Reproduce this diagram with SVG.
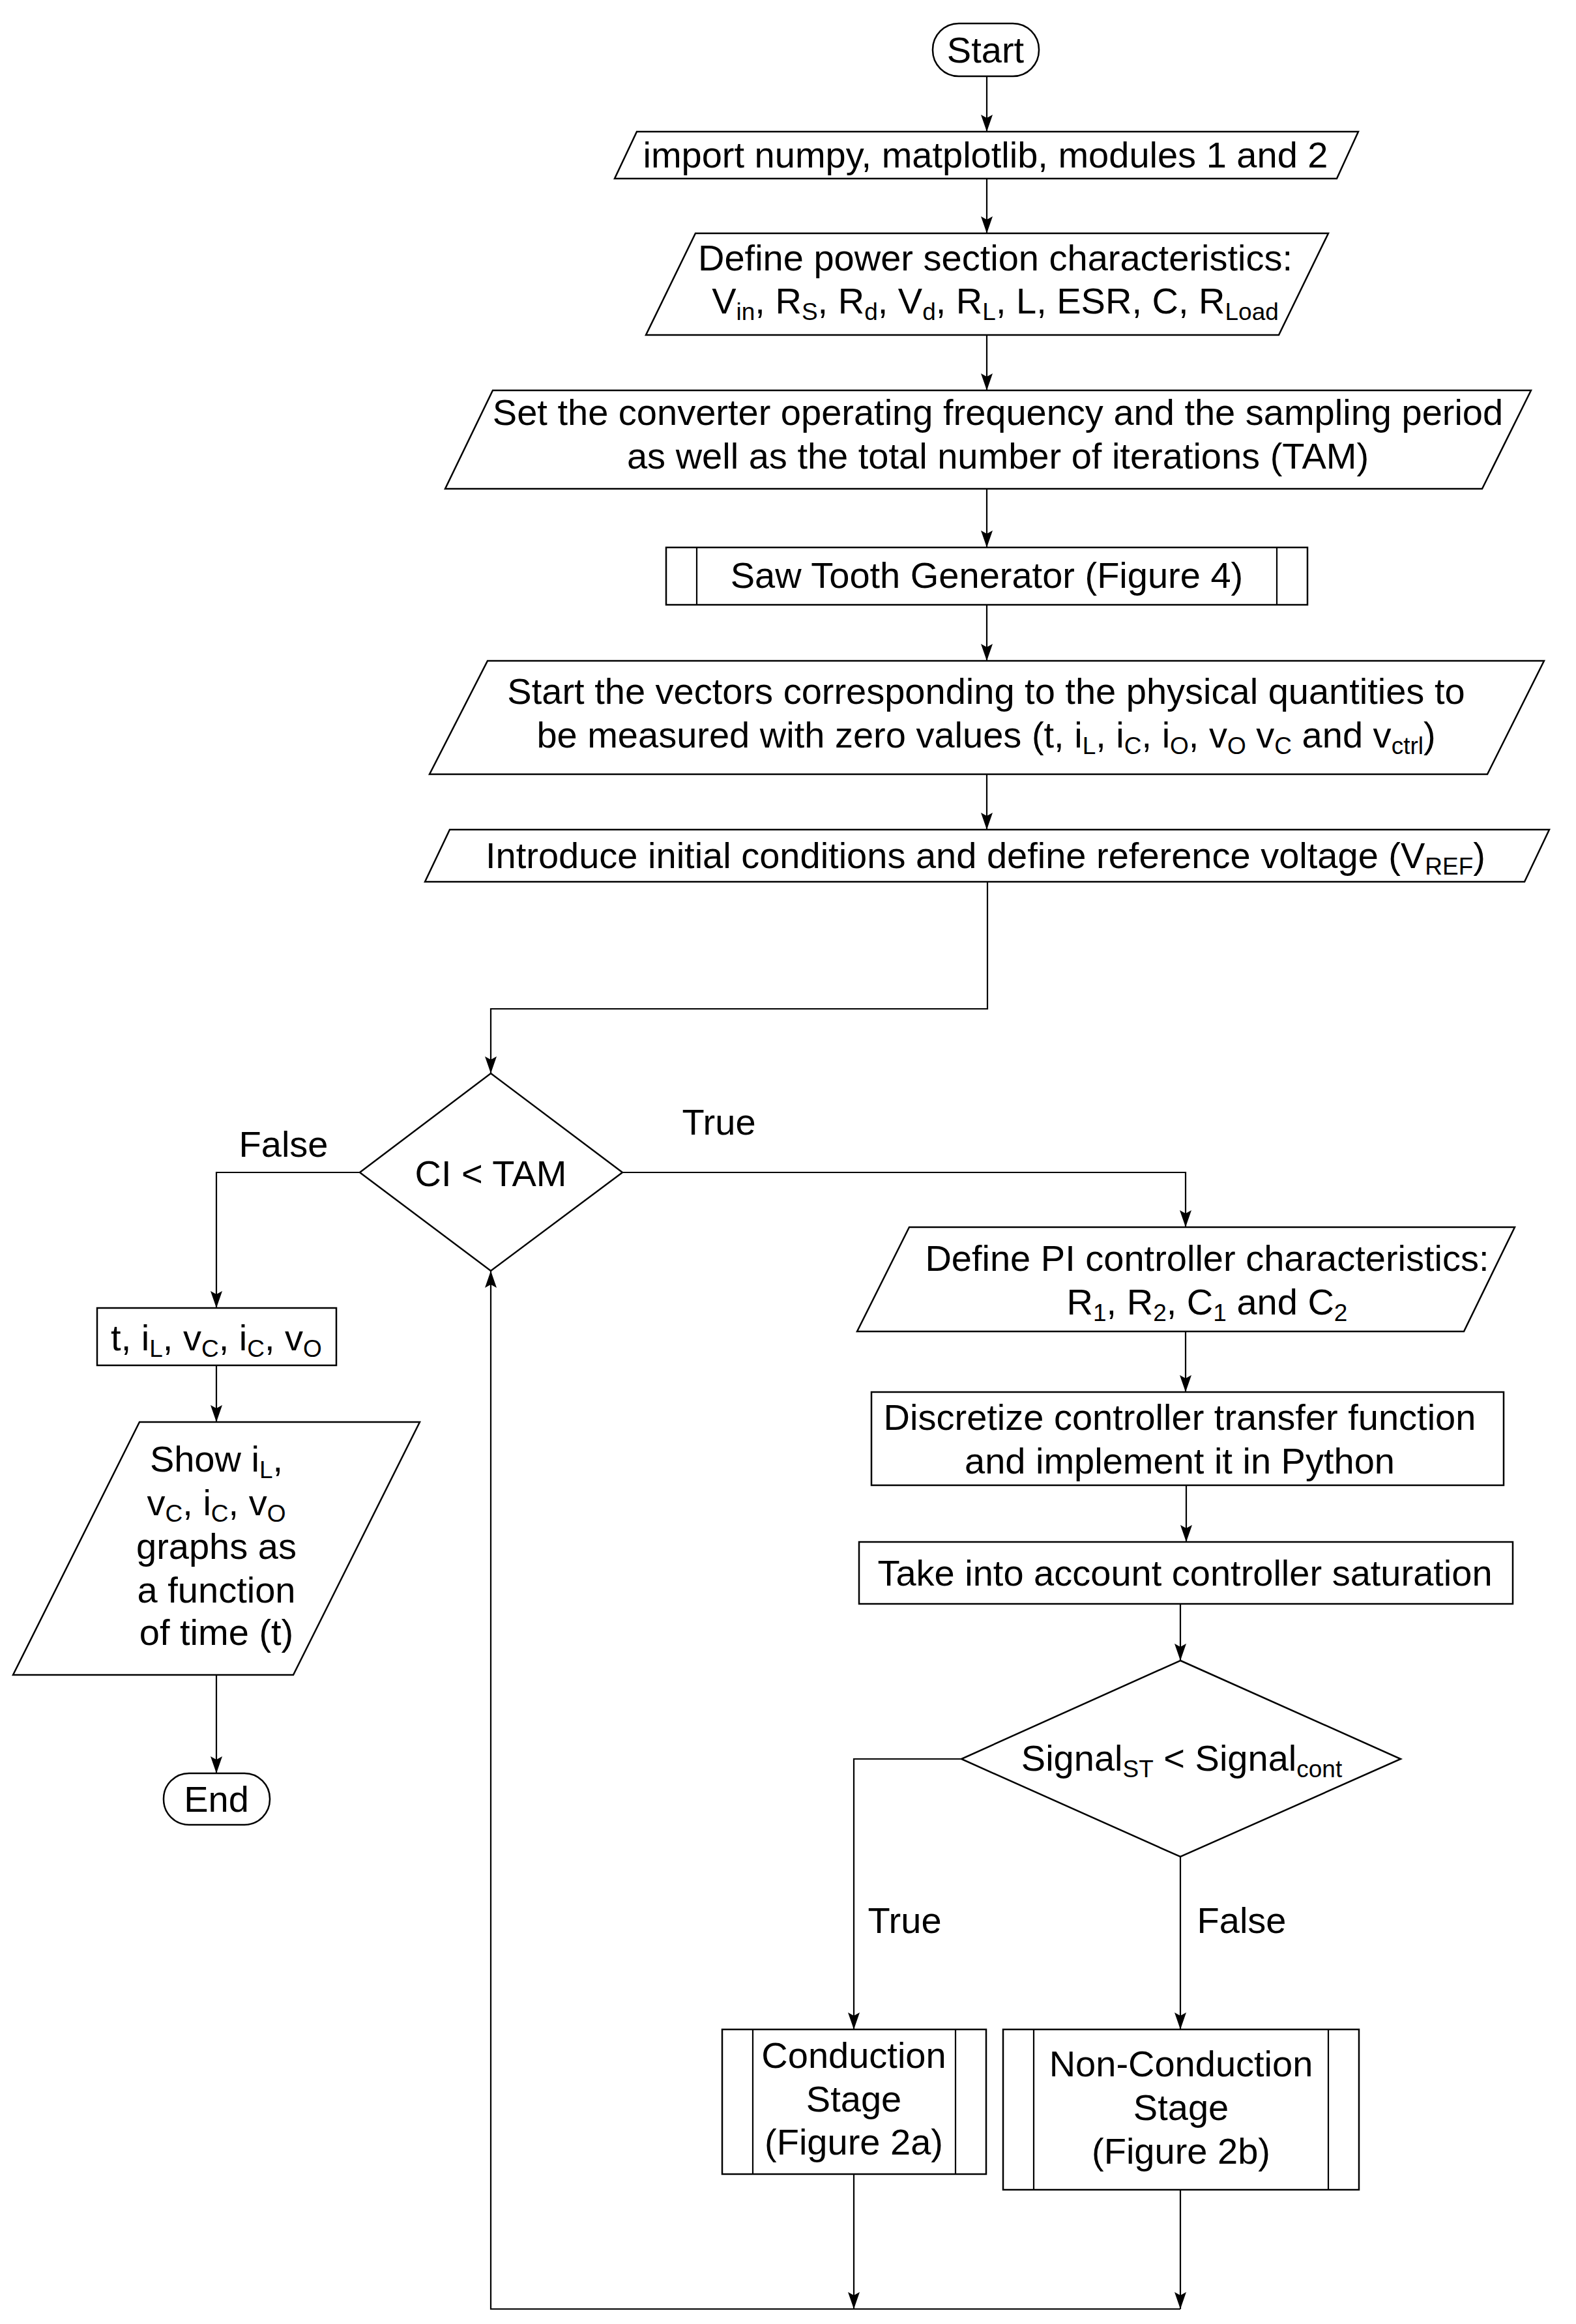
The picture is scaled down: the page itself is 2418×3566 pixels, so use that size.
<svg xmlns="http://www.w3.org/2000/svg" width="2418" height="3566" viewBox="0 0 2418 3566">
<style>
.s{fill:#fff;stroke:#000;stroke-width:2.5}
.ln{fill:none;stroke:#000;stroke-width:2.2}
text{font-family:"Liberation Sans",Arial,sans-serif;font-size:56px;fill:#000;text-anchor:middle}
.b{font-size:37px}
</style>
<defs>
<marker id="ah" viewBox="0 0 26 18" refX="26" refY="9" markerWidth="26" markerHeight="18" markerUnits="userSpaceOnUse" orient="auto"><path d="M0,0 L26,9 L0,18 L5,9 Z" fill="#000"/></marker>
</defs>
<rect width="2418" height="3566" fill="#fff"/>

<g id="connectors">
<path class="ln" d="M1514,117 V202" marker-end="url(#ah)"/>
<path class="ln" d="M1514,274 V358" marker-end="url(#ah)"/>
<path class="ln" d="M1514,514 V599" marker-end="url(#ah)"/>
<path class="ln" d="M1514,750 V840" marker-end="url(#ah)"/>
<path class="ln" d="M1514,928 V1014" marker-end="url(#ah)"/>
<path class="ln" d="M1514,1188 V1273" marker-end="url(#ah)"/>
<path class="ln" d="M1515,1353 V1548 H753 V1647" marker-end="url(#ah)"/>
<path class="ln" d="M552,1799 H332 V2007" marker-end="url(#ah)"/>
<path class="ln" d="M332,2095 V2182" marker-end="url(#ah)"/>
<path class="ln" d="M332,2570 V2721" marker-end="url(#ah)"/>
<path class="ln" d="M955,1799 H1819 V1883" marker-end="url(#ah)"/>
<path class="ln" d="M1819,2043 V2136" marker-end="url(#ah)"/>
<path class="ln" d="M1820,2279 V2366" marker-end="url(#ah)"/>
<path class="ln" d="M1811,2461 V2548" marker-end="url(#ah)"/>
<path class="ln" d="M1475,2699 H1310 V3114" marker-end="url(#ah)"/>
<path class="ln" d="M1811,2849 V3114" marker-end="url(#ah)"/>
<path class="ln" d="M1310,3336 V3543" marker-end="url(#ah)"/>
<path class="ln" d="M1811,3360 V3543" marker-end="url(#ah)"/>
<path class="ln" d="M1811,3543 H753 V1950" marker-end="url(#ah)"/>
<text x="435" y="1775">False</text>
<text x="1103" y="1741">True</text>
<text x="1388" y="2966">True</text>
<text x="1905" y="2966">False</text>
</g>

<g id="start">
<rect class="s" x="1431" y="36" width="163" height="81" rx="40" ry="40"/>
<text x="1512" y="96">Start</text>
</g>

<g id="import">
<polygon class="s" points="977,202 2084,202 2051,274 943,274"/>
<text x="1512" y="257">import numpy, matplotlib, modules 1 and 2</text>
</g>

<g id="power">
<polygon class="s" points="1067,358 2038,358 1962,514 991,514"/>
<text x="1527" y="415">Define power section characteristics:</text>
<text x="1527" y="481">V<tspan class="b" dy="10">in</tspan><tspan dy="-10">, R</tspan><tspan class="b" dy="10">S</tspan><tspan dy="-10">, R</tspan><tspan class="b" dy="10">d</tspan><tspan dy="-10">, V</tspan><tspan class="b" dy="10">d</tspan><tspan dy="-10">, R</tspan><tspan class="b" dy="10">L</tspan><tspan dy="-10">, L, ESR, C, R</tspan><tspan class="b" dy="10">Load</tspan></text>
</g>

<g id="freq">
<polygon class="s" points="756,599 2349,599 2274,750 683,750"/>
<text x="1531" y="652">Set the converter operating frequency and the sampling period</text>
<text x="1531" y="719">as well as the total number of iterations (TAM)</text>
</g>

<g id="sawtooth">
<rect class="s" x="1022" y="840" width="984" height="88"/>
<line class="ln" x1="1069" y1="840" x2="1069" y2="928"/>
<line class="ln" x1="1959" y1="840" x2="1959" y2="928"/>
<text x="1514" y="902">Saw Tooth Generator (Figure 4)</text>
</g>

<g id="vectors">
<polygon class="s" points="748,1014 2369,1014 2282,1188 659,1188"/>
<text x="1513" y="1080">Start the vectors corresponding to the physical quantities to</text>
<text x="1513" y="1147">be measured with zero values (t, i<tspan class="b" dy="10">L</tspan><tspan dy="-10">, i</tspan><tspan class="b" dy="10">C</tspan><tspan dy="-10">, i</tspan><tspan class="b" dy="10">O</tspan><tspan dy="-10">, v</tspan><tspan class="b" dy="10">O</tspan><tspan dy="-10"> v</tspan><tspan class="b" dy="10">C</tspan><tspan dy="-10"> and v</tspan><tspan class="b" dy="10">ctrl</tspan><tspan dy="-10">)</tspan></text>
</g>

<g id="initial">
<polygon class="s" points="690,1273 2377,1273 2339,1353 652,1353"/>
<text x="1512" y="1332">Introduce initial conditions and define reference voltage (V<tspan class="b" dy="10">REF</tspan><tspan dy="-10">)</tspan></text>
</g>

<g id="loop-decision">
<polygon class="s" points="753,1647 955,1799 753,1950 552,1799"/>
<text x="753" y="1820">CI &lt; TAM</text>
</g>

<g id="results">
<rect class="s" x="149" y="2007" width="367" height="88"/>
<text x="332" y="2072">t, i<tspan class="b" dy="10">L</tspan><tspan dy="-10">, v</tspan><tspan class="b" dy="10">C</tspan><tspan dy="-10">, i</tspan><tspan class="b" dy="10">C</tspan><tspan dy="-10">, v</tspan><tspan class="b" dy="10">O</tspan></text>
</g>

<g id="show">
<polygon class="s" points="214,2182 644,2182 450,2570 20,2570"/>
<text x="332" y="2258">Show i<tspan class="b" dy="10">L</tspan><tspan dy="-10">,</tspan></text>
<text x="332" y="2325">v<tspan class="b" dy="10">C</tspan><tspan dy="-10">, i</tspan><tspan class="b" dy="10">C</tspan><tspan dy="-10">, v</tspan><tspan class="b" dy="10">O</tspan></text>
<text x="332" y="2392">graphs as</text>
<text x="332" y="2459">a function</text>
<text x="332" y="2524">of time (t)</text>
</g>

<g id="end">
<rect class="s" x="251" y="2721" width="163" height="79" rx="39" ry="39"/>
<text x="332" y="2780">End</text>
</g>

<g id="pi">
<polygon class="s" points="1395,1883 2324,1883 2246,2043 1315,2043"/>
<text x="1852" y="1950">Define PI controller characteristics:</text>
<text x="1852" y="2017">R<tspan class="b" dy="10">1</tspan><tspan dy="-10">, R</tspan><tspan class="b" dy="10">2</tspan><tspan dy="-10">, C</tspan><tspan class="b" dy="10">1</tspan><tspan dy="-10"> and C</tspan><tspan class="b" dy="10">2</tspan></text>
</g>

<g id="discretize">
<rect class="s" x="1337" y="2136" width="970" height="143"/>
<text x="1810" y="2194">Discretize controller transfer function</text>
<text x="1810" y="2261">and implement it in Python</text>
</g>

<g id="saturation">
<rect class="s" x="1318" y="2366" width="1003" height="95"/>
<text x="1818" y="2433">Take into account controller saturation</text>
</g>

<g id="signal-decision">
<polygon class="s" points="1811,2548 2149,2699 1811,2849 1475,2699"/>
<text x="1813" y="2717">Signal<tspan class="b" dy="10">ST</tspan><tspan dy="-10"> &lt; Signal</tspan><tspan class="b" dy="10">cont</tspan></text>
</g>

<g id="conduction">
<rect class="s" x="1108" y="3114" width="405" height="222"/>
<line class="ln" x1="1155" y1="3114" x2="1155" y2="3336"/>
<line class="ln" x1="1466" y1="3114" x2="1466" y2="3336"/>
<text x="1310" y="3173">Conduction</text>
<text x="1310" y="3240">Stage</text>
<text x="1310" y="3306">(Figure 2a)</text>
</g>

<g id="nonconduction">
<rect class="s" x="1539" y="3114" width="546" height="246"/>
<line class="ln" x1="1586" y1="3114" x2="1586" y2="3360"/>
<line class="ln" x1="2038" y1="3114" x2="2038" y2="3360"/>
<text x="1812" y="3186">Non-Conduction</text>
<text x="1812" y="3253">Stage</text>
<text x="1812" y="3320">(Figure 2b)</text>
</g>
</svg>
